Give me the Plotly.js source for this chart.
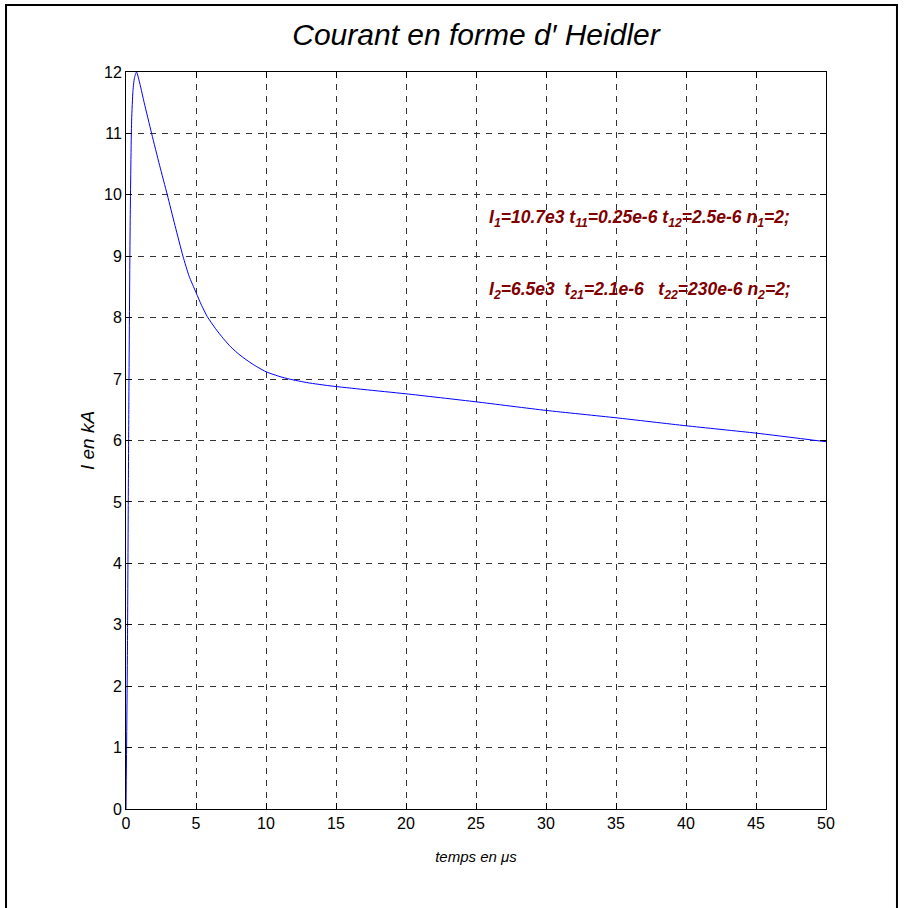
<!DOCTYPE html>
<html>
<head>
<meta charset="utf-8">
<script src="https://cdn.plot.ly/plotly-3.0.1.min.js"></script>
<style>html,body{margin:0;padding:0;background:#fff;}#chart{width:904px;height:908px;}</style>
</head>
<body>
<div id="chart"></div>
<script>
// time in microseconds
var tempsUs = [0, 0.1, 0.2, 0.3, 0.4, 0.5, 0.6, 0.75, 1.0, 1.3, 1.83, 2.4, 2.95, 3.5, 4.07, 4.5, 5.0, 5.4, 5.8, 6.4, 6.95, 7.5, 8.14, 9.0, 10, 11.0, 11.67, 13.0, 14.57, 17, 20, 25, 30, 35, 40, 45, 50];
// current in kA
var courantKA = [0, 2.5, 6.5, 9.6, 11.2, 11.7, 11.9, 12.0, 11.8, 11.5, 11.0, 10.48, 10.0, 9.5, 9.0, 8.68, 8.41, 8.2, 8.02, 7.82, 7.66, 7.52, 7.39, 7.25, 7.12, 7.04, 7.0, 6.94, 6.89, 6.83, 6.76, 6.63, 6.49, 6.37, 6.24, 6.12, 5.98];
var xTicks = [0, 5, 10, 15, 20, 25, 30, 35, 40, 45, 50];
var yTicks = [0, 1, 2, 3, 4, 5, 6, 7, 8, 9, 10, 11, 12];
var titleText = "Courant en forme d\u2032 Heidler";
var xLabel = "temps en \u03bcs";
var yLabel = "I en kA";
var paramLine1 = "I<sub>1</sub>=10.7e3 t<sub>11</sub>=0.25e-6 t<sub>12</sub>=2.5e-6 n<sub>1</sub>=2;";
var paramLine2 = "I<sub>2</sub>=6.5e3  t<sub>21</sub>=2.1e-6   t<sub>22</sub>=230e-6 n<sub>2</sub>=2;";

var font = "Liberation Sans, Arial, sans-serif";
var axisCommon = {
  showline: true, linecolor: '#000', linewidth: 1, mirror: 'ticks',
  ticks: 'inside', ticklen: 6, tickcolor: '#000',
  showgrid: true, gridcolor: '#333', griddash: '6px,6px', gridwidth: 1,
  zeroline: false,
  tickfont: {family: font, size: 16, color: '#000'}
};
var layout = {
  width: 904, height: 908,
  margin: {l: 126, r: 78, t: 72, b: 99},
  paper_bgcolor: '#fff', plot_bgcolor: '#fff',
  showlegend: false,
  title: {text: titleText, font: {family: font, size: 30, color: '#000', style: 'italic'}, x: 0.5, xref: 'paper', xanchor: 'center', y: 0.962, yanchor: 'middle'},
  xaxis: Object.assign({}, axisCommon, {
    range: [0, 50], tickvals: xTicks, ticktext: xTicks.map(String),
    title: {text: xLabel, font: {family: font, size: 15, style: 'italic', color: '#000'}, standoff: 20}
  }),
  yaxis: Object.assign({}, axisCommon, {
    range: [0, 12], tickvals: yTicks, ticktext: yTicks.map(String),
    title: {text: yLabel, font: {family: font, size: 19, style: 'italic', color: '#000'}, standoff: 4}
  }),
  annotations: [
    {x: 25.8, y: 9.62, xref: 'x', yref: 'y', xanchor: 'left', yanchor: 'middle', showarrow: false,
     text: paramLine1, font: {family: font, size: 17.5, color: '#800000', weight: 'bold', style: 'italic'}},
    {x: 25.8, y: 8.45, xref: 'x', yref: 'y', xanchor: 'left', yanchor: 'middle', showarrow: false,
     text: paramLine2, font: {family: font, size: 17.5, color: '#800000', weight: 'bold', style: 'italic'}}
  ],
  shapes: [
    {type: 'rect', xref: 'paper', yref: 'paper', x0: -0.1714, x1: 1.1014, y0: -0.14, y1: 1.0909,
     line: {color: '#000', width: 2}, fillcolor: 'rgba(0,0,0,0)', layer: 'below'}
  ]
};
var trace = {x: tempsUs, y: courantKA, type: 'scatter', mode: 'lines', line: {color: '#0000ff', width: 1, shape: 'spline', smoothing: 0.6}, hoverinfo: 'none'};
Plotly.newPlot('chart', [trace], layout, {staticPlot: true, displayModeBar: false});
</script>
</body>
</html>
